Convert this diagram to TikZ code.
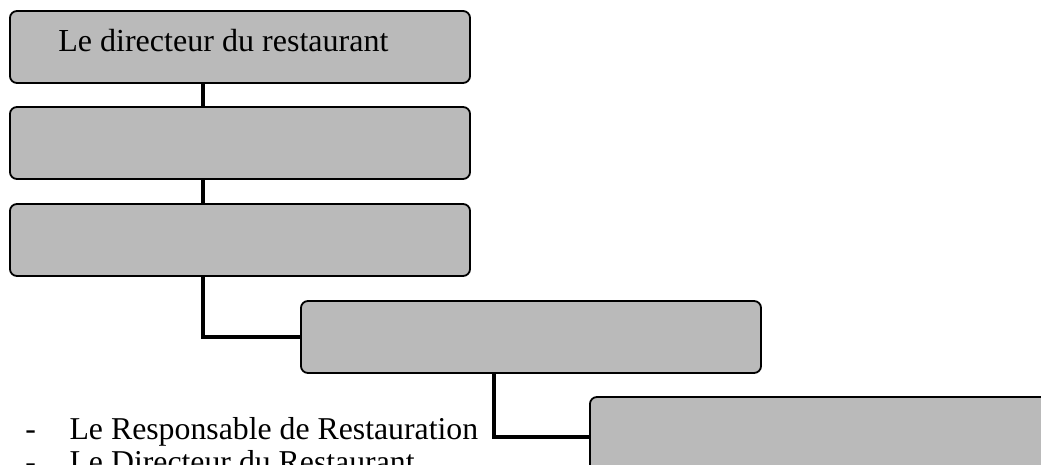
\documentclass[tikz,border=0pt]{standalone}
\usepackage{fontspec}
\setmainfont{Liberation Serif}
\tikzset{
	lvl/.style={draw=black, line width=1.3pt, rounded corners=5pt, fill=black!27, minimum width=11.5cm, minimum height=1.8cm, inner sep=0pt},
	link/.style={draw=black, line width=2.4pt},
}
\begin{document}
\begin{tikzpicture}[x=0.025cm, y=-0.025cm]
	\useasboundingbox (0,0) rectangle (1041,465);
	\clip (0,0) rectangle (1041,465);
	\node[lvl] (lvl1) at (240,47) {};
	\node[lvl] (lvl2) at (240,143) {};
	\node[lvl] (lvl3) at (240,240) {};
	\node[lvl] (lvl4) at (531,337) {};
	\node[lvl, minimum height=2cm] (lvl5) at (820,437) {};
	\node[black, anchor=base west, inner sep=0pt, font=\fontsize{22.8}{26}\selectfont] (lvl1txt) at (58,52) {Le directeur du restaurant};
	\node[black, anchor=base west, inner sep=0pt, font=\fontsize{22.6}{23}\selectfont] (liste) at (25,440) {%
		\begin{tabular}[t]{@{}l@{\hspace{24pt}}l@{}}
			- & Le Responsable de Restauration \\
			- & Le Directeur du Restaurant
		\end{tabular}};
	\draw[link] ([xshift=-0.925cm]lvl1.south) -- ([xshift=-0.925cm]lvl2.north);
	\draw[link] ([xshift=-0.925cm]lvl2.south) -- ([xshift=-0.925cm]lvl3.north);
	\draw[link] ([xshift=-0.925cm]lvl3.south) |- (lvl4.west);
	\draw[link] ([xshift=-0.925cm]lvl4.south) |- (lvl5.west);
\end{tikzpicture}
\end{document}
